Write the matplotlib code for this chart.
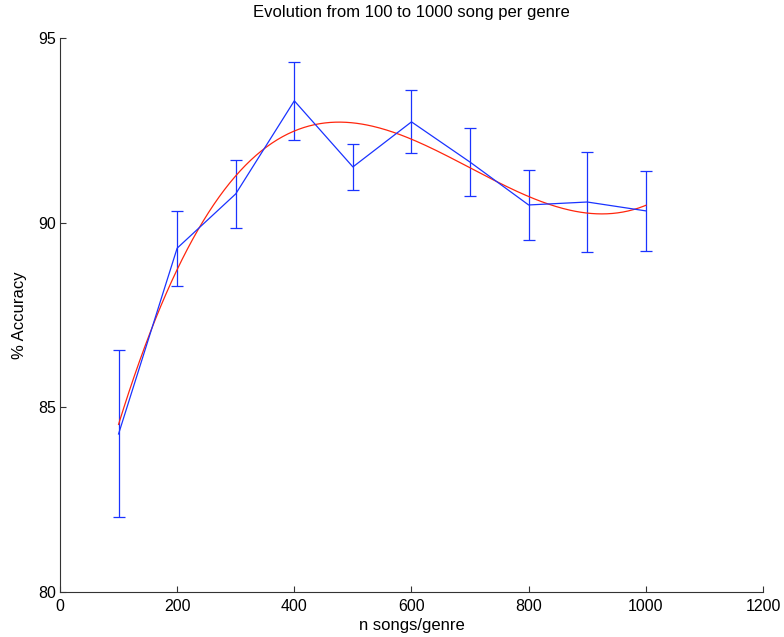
import numpy as np
import matplotlib
matplotlib.use("Agg")
import matplotlib.pyplot as plt

plt.rcParams['font.family'] = ['Liberation Sans', 'DejaVu Sans']

# Songs per genre and the measured accuracy (mean and error half-width)
n_songs = [100, 200, 300, 400, 500, 600, 700, 800, 900, 1000]
accuracy = [84.28, 89.31, 90.78, 93.30, 91.51, 92.73, 91.64, 90.48, 90.56, 90.32]
acc_err = [2.26, 1.02, 0.92, 1.05, 0.62, 0.85, 0.92, 0.95, 1.35, 1.08]

x_ticks = [0, 200, 400, 600, 800, 1000, 1200]
y_ticks = [80, 85, 90, 95]

fig = plt.figure(figsize=(7.84, 6.37), dpi=100)
ax = fig.add_axes([0.0765, 0.0706, 0.8967, 0.8697])

ax.errorbar(n_songs, accuracy, yerr=acc_err, color=(0.1, 0.2, 1.0),
            lw=0.9, elinewidth=0.9, capsize=4, capthick=0.9)

# third-order polynomial trend through the measurements
coef = np.polyfit(n_songs, accuracy, 3)
xs = np.linspace(min(n_songs), max(n_songs), 300)
ax.plot(xs, np.polyval(coef, xs), color=(1.0, 0.15, 0.05), lw=0.9)

ax.set_xlim(0, 1200)
ax.set_ylim(80, 95)
ax.set_xticks(x_ticks)
ax.set_yticks(y_ticks)
ax.spines['top'].set_visible(False)
ax.spines['right'].set_visible(False)
for s in ('left', 'bottom'):
    ax.spines[s].set_linewidth(0.8)
    ax.spines[s].set_color('#333333')
ax.tick_params(direction='in', length=4, width=0.8, labelsize=11.5,
               color='#333333')
ax.tick_params(axis='x', pad=5)
ax.tick_params(axis='y', pad=3)

ax.set_title('Evolution from 100 to 1000 song per genre', fontsize=12, pad=15)
ax.set_xlabel('n songs/genre', fontsize=12, labelpad=3)
ax.set_ylabel('% Accuracy', fontsize=12, labelpad=8)

fig.savefig('out.png', dpi=100)
